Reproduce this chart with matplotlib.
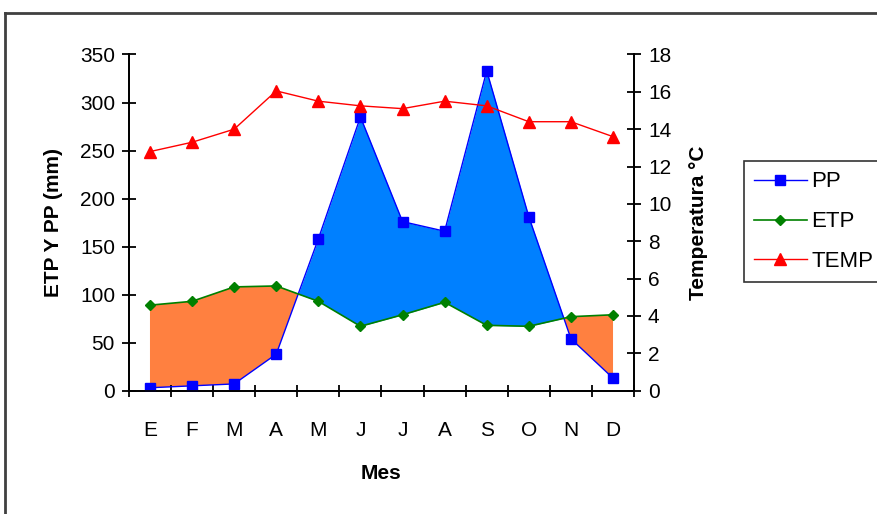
import numpy as np
import matplotlib.pyplot as plt
from matplotlib.lines import Line2D

plt.rcParams['font.family'] = ['Liberation Sans', 'DejaVu Sans']

meses = ['E', 'F', 'M', 'A', 'M', 'J', 'J', 'A', 'S', 'O', 'N', 'D']
pp = [3, 5, 7, 38, 158, 285, 176, 166, 333, 181, 54, 13]
etp = [89, 93, 108, 109, 93, 67, 79, 92, 68, 67, 77, 79]
temp = [12.8, 13.3, 14.0, 16.05, 15.5, 15.25, 15.1, 15.5, 15.25, 14.4, 14.4, 13.6]

x = np.arange(len(meses))
pp_a = np.array(pp, dtype=float)
etp_a = np.array(etp, dtype=float)

fig = plt.figure(figsize=(8.77, 5.14), dpi=100)
ax = fig.add_axes([0.147, 0.240, 0.576, 0.654])

# relleno entre curvas
ax.fill_between(x, pp_a, etp_a, where=pp_a >= etp_a, interpolate=True,
                color='#0080ff', linewidth=0)
ax.fill_between(x, pp_a, etp_a, where=pp_a < etp_a, interpolate=True,
                color='#ff8040', linewidth=0)

ax.plot(x, pp, color='#0000ff', marker='s', markersize=7.5, linewidth=1, zorder=4)
ax.plot(x, etp, color='#008000', marker='D', markersize=5, linewidth=1.2, zorder=4)

ax2 = ax.twinx()
ax2.plot(x, temp, color='#ff0000', marker='^', markersize=8.5, linewidth=1, zorder=4)

ax.set_xlim(-0.5, 11.5)
ax.set_ylim(0, 350)
ax2.set_ylim(0, 18)
ax.set_yticks(range(0, 351, 50))
ax2.set_yticks(range(0, 19, 2))

ax.set_xticks(x)
ax.set_xticklabels(meses)
ax.set_xticks(np.arange(-0.5, 12, 1), minor=True)
ax.tick_params(axis='x', which='major', length=0, pad=22, labelsize=15)
ax.tick_params(axis='x', which='minor', length=8, direction='inout', width=1.3)
ax.tick_params(axis='y', length=10, direction='inout', width=1.3, labelsize=15, pad=5)
ax2.tick_params(axis='y', length=10, direction='inout', width=1.3, labelsize=15, pad=5)

for a in (ax, ax2):
    a.spines['top'].set_visible(False)
    for s in ('left', 'right', 'bottom'):
        a.spines[s].set_linewidth(1.3)

ax.set_ylabel('ETP Y PP (mm)', fontsize=15, fontweight='bold', labelpad=12)
ax2.set_ylabel('Temperatura °C', fontsize=15, fontweight='bold', labelpad=13)
ax.set_xlabel('Mes', fontsize=15, fontweight='bold', labelpad=17)

handles = [
    Line2D([], [], color='#0000ff', marker='s', markersize=7.5, linewidth=1),
    Line2D([], [], color='#008000', marker='D', markersize=5, linewidth=1.2),
    Line2D([], [], color='#ff0000', marker='^', markersize=8.5, linewidth=1),
]
leg = fig.legend(handles, ['PP', 'ETP', 'TEMP'], loc='upper left',
                 bbox_to_anchor=(0.848, 0.686), frameon=True, fancybox=False,
                 fontsize=16, handlelength=2.4, handletextpad=0.2,
                 labelspacing=0.85, borderpad=0.45, edgecolor='black',
                 borderaxespad=0)
leg.get_frame().set_linewidth(1.2)

# marco exterior del grafico
fig.add_artist(Line2D([5 / 877, 5 / 877], [0, 1 - 13 / 514],
                      transform=fig.transFigure, color='#404040', linewidth=2))
fig.add_artist(Line2D([5 / 877, 1], [1 - 13 / 514, 1 - 13 / 514],
                      transform=fig.transFigure, color='#404040', linewidth=2))

fig.savefig('out.png', dpi=100)
